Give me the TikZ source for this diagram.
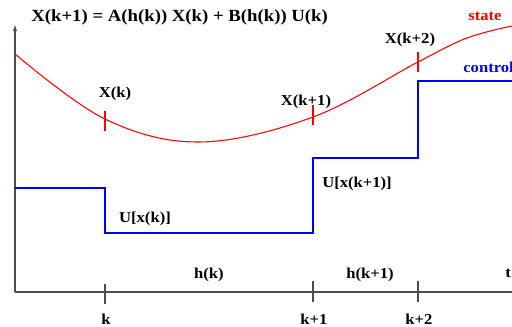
\documentclass[tikz,border=0pt]{standalone}
\usepackage{fontspec}
\newfontfamily\lblfont[FakeStretch=1.1]{Liberation Serif}
\usetikzlibrary{arrows.meta, positioning, calc}

\begin{document}
\begin{tikzpicture}[
    x=0.02cm, y=-0.02cm,
    axis/.style={draw=black!70, line width=0.75pt},
    statecurve/.style={draw=red, line width=0.6pt},
    controlline/.style={draw=blue, line width=0.75pt},
    lbl/.style={font=\lblfont\bfseries\fontsize{8.6}{10}\selectfont, inner sep=0pt, text=#1},
    lbl/.default=black,
    titlelbl/.style={font=\lblfont\bfseries\fontsize{9.7}{11}\selectfont, inner sep=0pt}
]
\useasboundingbox (0,0) rectangle (512,327);

% --- Axes ---
\coordinate (origin) at (15,292);
\coordinate (ytop)   at (15,24);
\coordinate (xend)   at (512,292);
\draw[axis, -{Latex[length=4pt, width=2.4pt]}] (origin) -- (ytop);
\draw[axis] (origin) -- (xend);

% --- Sampling instants ---
\foreach \x/\ya/\yb/\name/\txt in {105/284/304/tk/k, 313/281/302/tkone/k+1, 418/281/302/tktwo/k+2} {
    \draw[axis] (\x,\ya) -- (\x,\yb);
    \node[lbl] (\name) at (\x+1,319) {\txt};
}
\node[lbl, anchor=west] (tlbl) at (505,273) {t};

% --- Intervals ---
\node[lbl] (hk)    at (209,275) {h(k)};
\node[lbl] (hkone) at (370,275) {h(k+1)};

% --- State ---
\draw[statecurve] plot[smooth, tension=0.6] coordinates
    {(15,54) (105,119) (200,142) (313,117) (418,62) (467,38) (512,26)};
\foreach \x/\y in {105/121, 313/115, 418/62} {
    \draw[statecurve] (\x,\y-10) -- (\x,\y+10);
}
\node[lbl] (xk)    at (115,94)  {X(k)};
\node[lbl] (xkone) at (306,102) {X(k+1)};
\node[lbl] (xktwo) at (410,40)  {X(k+2)};
\node[lbl=red] (statelbl) at (485,16) {state};

% --- Control ---
\draw[controlline] (15,188) -- (105,188) -- (105,233) -- (313,233)
    -- (313,158) -- (418,158) -- (418,81) -- (512,81);
\node[lbl] (uk)    at (145,219) {U[x(k)]};
\node[lbl] (ukone) at (357,184) {U[x(k+1)]};
\node[lbl=blue, anchor=west] (controllbl) at (463,67) {control};

% --- Equation ---
\node[titlelbl, anchor=west] (eqn) at (31,17) {X(k+1) = A(h(k)) X(k) + B(h(k)) U(k)};

\end{tikzpicture}
\end{document}
